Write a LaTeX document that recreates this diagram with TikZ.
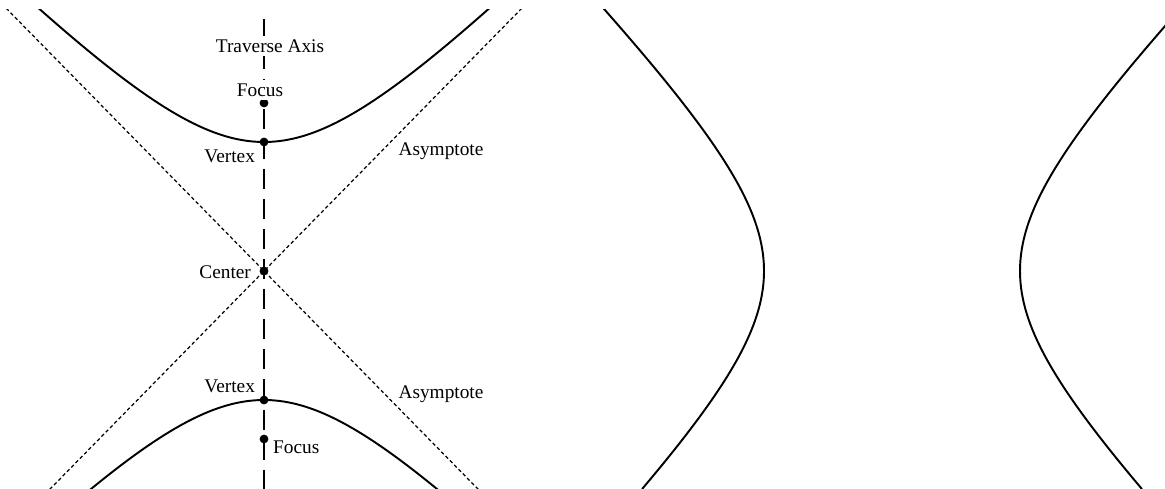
\documentclass[tikz,border=0pt]{standalone}
\usepackage{fontspec}
\setmainfont{Liberation Serif}
\usepackage{tikz}
\usetikzlibrary{arrows.meta, positioning, calc}

\begin{document}
\begin{tikzpicture}[
    x=0.02cm, y=-0.02cm,
    curve/.style={line width=1.1pt, smooth, samples=120},
    asym/.style={line width=0.7pt, dash pattern=on 2pt off 1.5pt},
    axis/.style={line width=0.8pt, dash pattern=on 11.4pt off 5.7pt, dash phase=12pt},
    pt/.style={circle, fill=black, inner sep=0pt, minimum size=5pt},
    lbl/.style={font=\fontsize{11}{13}\selectfont, inner sep=1pt},
    tag/.style={lbl, fill=white, inner sep=2pt},
  ]
    \useasboundingbox (0,0) rectangle (1165,489);
    % ===== vertical hyperbola (left) =====
    \coordinate (C)  at (264,271);
    \coordinate (Ct) at (264,10);
    \coordinate (Cb) at (264,489);
    \begin{scope}
      \clip (0,10) rectangle (1165,489);
      \draw[axis] (Ct) -- (Cb);                       % transverse axis
      \draw[asym] ([shift={(-262,-267)}]C) -- ([shift={(262,267)}]C);
      \draw[asym] ([shift={(262,-267)}]C) -- ([shift={(-262,267)}]C);
      \draw[curve] plot[domain=20:510, variable=\x] ({\x}, {271-129*sqrt(1+((\x-264)/127)^2)});
      \draw[curve] plot[domain=20:510, variable=\x] ({\x}, {271+129*sqrt(1+((\x-264)/127)^2)});
      % ===== horizontal hyperbola (right) =====
      \draw[curve] plot[domain=0:489, variable=\y] ({892-128*sqrt(1+((\y-271)/130)^2)}, {\y});
      \draw[curve] plot[domain=0:489, variable=\y] ({892+128*sqrt(1+((\y-271)/130)^2)}, {\y});
    \end{scope}
    % ===== points =====
    \node[pt] (F1) at (264,103) {};
    \node[pt] (V1) at (264,142) {};
    \node[pt] (O)  at (C) {};
    \node[pt] (V2) at (264,400) {};
    \node[pt] (F2) at (264,439) {};
    % ===== labels =====
    \node[tag] (ax) at (270,46) {Traverse Axis};
    \node[tag] (fl1) at (260,90) {Focus};
    \node[lbl, anchor=east] (vl1) at (257,156) {Vertex};
    \node[lbl, anchor=east] (cl)  at (253,272) {Center};
    \node[lbl, anchor=east] (vl2) at (257,386) {Vertex};
    \node[lbl, anchor=west] (fl2) at (271,447) {Focus};
    \node[lbl] (al1) at (441,151) {Asymptote};
    \node[lbl] (al2) at (441,394) {Asymptote};
  \end{tikzpicture}
\end{document}
